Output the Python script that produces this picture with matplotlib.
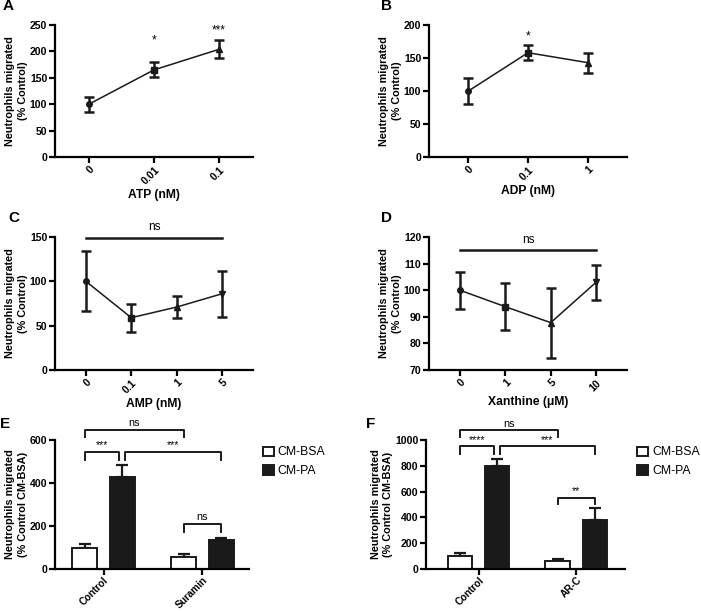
import numpy as np
import matplotlib
matplotlib.use("Agg")
import matplotlib.pyplot as plt

plt.rcParams['font.family'] = ['Liberation Sans', 'DejaVu Sans']
plt.rcParams['font.weight'] = 'bold'
plt.rcParams['axes.labelweight'] = 'bold'

# panel A - ATP
atp_labels = ['0', '0.01', '0.1']
atp_mean = [100, 165, 204]
atp_err = [14.5, 14, 17]
# panel B - ADP
adp_labels = ['0', '0.1', '1']
adp_mean = [100, 158, 143]
adp_err = [20, 11, 15]
# panel C - AMP
amp_labels = ['0', '0.1', '1', '5']
amp_mean = [100, 59, 71, 86]
amp_err = [34, 16, 12, 26]
# panel D - Xanthine
xan_labels = ['0', '1', '5', '10']
xan_mean = [100, 93.8, 87.8, 103]
xan_err = [7, 8.8, 13.2, 6.5]
# panel E - Suramin
e_groups = ['Control', 'Suramin']
e_bsa = [100, 54]
e_bsa_err = [17, 17]
e_pa = [429, 134]
e_pa_err = [54, 12]
# panel F - AR-C
f_groups = ['Control', 'AR-C']
f_bsa = [100, 64]
f_bsa_err = [23, 15]
f_pa = [798, 382]
f_pa_err = [53, 90]

markers = ['o', 's', '^', 'v']
W, H = 701, 612
INK = '#1a1a1a'


def px_axes(fig, left, top, right, bottom):
    return fig.add_axes([left / W, 1 - bottom / H, (right - left) / W, (bottom - top) / H])


def style(ax):
    for s in ['top', 'right']:
        ax.spines[s].set_visible(False)
    for s in ['left', 'bottom']:
        ax.spines[s].set_linewidth(1.6)
    ax.tick_params(width=1.6, length=4, labelsize=7.6, direction='out', pad=1.5)


def line_panel(ax, labels, mean, err, xlabel, ylim, yticks, xpad):
    x = np.arange(len(labels))
    ax.plot(x, mean, color=INK, lw=1.1, zorder=2)
    for i in range(len(x)):
        ax.errorbar(x[i], mean[i], yerr=err[i], fmt=markers[i], ms=4, color=INK,
                    ecolor=INK, elinewidth=1.8, capsize=3.5, capthick=1.8, zorder=3)
    ax.set_xlim(-xpad, len(labels) - 1 + xpad)
    ax.set_ylim(*ylim)
    ax.set_yticks(yticks)
    ax.set_xticks(x)
    ax.set_xticklabels(labels, rotation=45, ha='right', rotation_mode='anchor')
    ax.set_xlabel(xlabel, fontsize=8.7, labelpad=2)
    ax.set_ylabel('Neutrophils migrated\n(% Control)', fontsize=7.8, labelpad=1.5, linespacing=1.3)
    style(ax)


def bracket(ax, x1, x2, y, tip, text, dy):
    ax.plot([x1, x1, x2, x2], [y - tip, y, y, y - tip], color=INK, lw=1.4, clip_on=False)
    ax.text((x1 + x2) / 2, y + dy, text, ha='center', va='bottom', fontsize=7.8,
            fontweight='normal', clip_on=False)


def bar_panel(ax, groups, bsa, bsa_err, pa, pa_err, ylim, yticks, xl, legx):
    x = np.arange(len(groups))
    w, off = 0.25, 0.19
    ax.bar(x - off, bsa, w, color='white', edgecolor=INK, lw=1.4, label='CM-BSA', zorder=2)
    ax.bar(x + off, pa, w, color=INK, edgecolor=INK, lw=1.4, label='CM-PA', zorder=2)
    ax.errorbar(x - off, bsa, yerr=[np.zeros(len(x)), bsa_err], fmt='none', ecolor=INK,
                elinewidth=1.6, capsize=4, capthick=1.6, zorder=1)
    ax.errorbar(x + off, pa, yerr=[np.zeros(len(x)), pa_err], fmt='none', ecolor=INK,
                elinewidth=1.6, capsize=4, capthick=1.6, zorder=1)
    ax.set_xlim(*xl)
    ax.set_ylim(*ylim)
    ax.set_yticks(yticks)
    ax.set_xticks(x)
    ax.set_xticklabels(groups, rotation=45, ha='right', rotation_mode='anchor')
    ax.set_ylabel('Neutrophils migrated\n(% Control CM-BSA)', fontsize=7.8, labelpad=1.5, linespacing=1.3)
    style(ax)
    ax.tick_params(axis='x', labelsize=7.2, pad=0.5)
    ax.legend(loc='upper left', bbox_to_anchor=(legx, 0.95), frameon=False,
              handlelength=0.9, handleheight=0.8, handletextpad=0.35, borderaxespad=0, borderpad=0,
              prop={'weight': 'normal', 'size': 8.8}, labelspacing=0.55)
    return x, off


fig = plt.figure(figsize=(W / 100, H / 100), dpi=100)

axA = px_axes(fig, 55, 25, 253, 157)
line_panel(axA, atp_labels, atp_mean, atp_err, 'ATP (nM)', (0, 250), range(0, 251, 50), 0.52)
axA.text(1, 210, '*', ha='center', va='bottom', fontsize=8.5, fontweight='normal')
axA.text(2, 228, '***', ha='center', va='bottom', fontsize=8.5, fontweight='normal')

axB = px_axes(fig, 429, 25, 627, 157)
line_panel(axB, adp_labels, adp_mean, adp_err, 'ADP (nM)', (0, 200), range(0, 201, 50), 0.66)
axB.text(1, 174, '*', ha='center', va='bottom', fontsize=8.5, fontweight='normal')

axC = px_axes(fig, 55, 237, 253, 370)
line_panel(axC, amp_labels, amp_mean, amp_err, 'AMP (nM)', (0, 150), range(0, 151, 50), 0.68)
axC.plot([0, 3], [149, 149], color=INK, lw=1.8, clip_on=False)
axC.text(1.5, 154, 'ns', ha='center', va='bottom', fontsize=8.5, fontweight='normal')

axD = px_axes(fig, 429, 237, 627, 370)
line_panel(axD, xan_labels, xan_mean, xan_err, 'Xanthine (\u03bcM)', (70, 120), range(70, 121, 10), 0.68)
axD.plot([0, 3], [115, 115], color=INK, lw=1.8, clip_on=False)
axD.text(1.5, 116.5, 'ns', ha='center', va='bottom', fontsize=8.5, fontweight='normal')

axE = px_axes(fig, 55, 440, 249, 569)
x, off = bar_panel(axE, e_groups, e_bsa, e_bsa_err, e_pa, e_pa_err, (0, 600), range(0, 601, 200),
                   (-0.49, 1.47), 1.07)
bracket(axE, x[0] - off, x[1] - off, 646, 32, 'ns', 8)
bracket(axE, x[0] - off, x[0] + off - 0.03, 545, 37, '***', 8)
bracket(axE, x[0] + off + 0.03, x[1] + off, 545, 37, '***', 8)
bracket(axE, x[1] - off, x[1] + off, 208, 37, 'ns', 12)

axF = px_axes(fig, 426, 440, 625, 569)
x, off = bar_panel(axF, f_groups, f_bsa, f_bsa_err, f_pa, f_pa_err, (0, 1000), range(0, 1001, 200),
                   (-0.54, 1.5), 1.06)
bracket(axF, x[0] - off, x[1] - off, 1077, 54, 'ns', 12)
bracket(axF, x[0] - off, x[0] + off - 0.03, 951, 56, '****', 12)
bracket(axF, x[0] + off + 0.03, x[1] + off, 951, 56, '***', 12)
bracket(axF, x[1] - off, x[1] + off, 549, 47, '**', 20)

for lab, (px, py) in zip('ABCDEF', [(3, 10), (381, 10), (8, 222), (381, 222), (0, 428), (366, 428)]):
    fig.text(px / W, 1 - py / H, lab, fontsize=11, fontweight='bold', ha='left', va='baseline')

fig.savefig('out.png', dpi=100)
